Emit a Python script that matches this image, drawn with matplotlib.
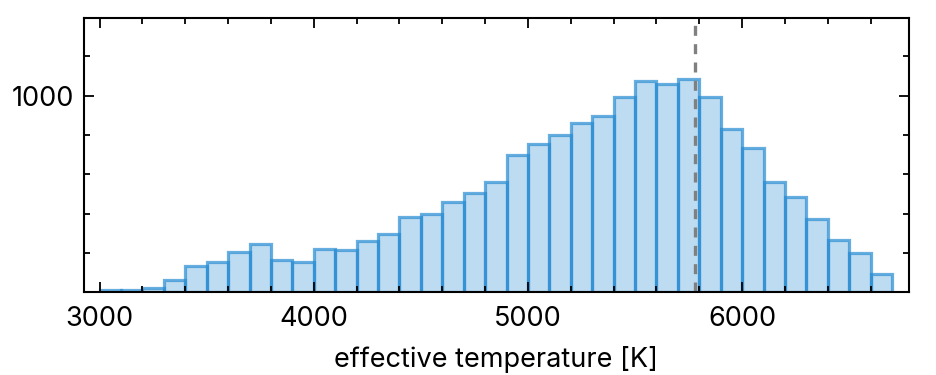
import matplotlib
matplotlib.use("Agg")
import matplotlib.pyplot as plt
import matplotlib.ticker as mticker
import numpy as np

# histogram bins (K) and counts
bin_edges = np.arange(3000, 6701, 100)
counts = [10, 10, 22, 61, 136, 154, 203, 246, 163, 154,
          220, 214, 259, 297, 381, 400, 458, 504, 563, 697,
          754, 802, 859, 897, 992, 1076, 1059, 1086, 992, 831,
          736, 561, 486, 371, 268, 200, 93]
t_sun = 5778

plt.rcParams['font.family'] = ['Inter', 'DejaVu Sans']

base = (40 / 255, 140 / 255, 210 / 255)

fig = plt.figure(figsize=(9.37, 3.75), dpi=100)
ax = fig.add_axes([0.0896, 0.2205, 0.8805, 0.7315])

ax.hist(bin_edges[:-1], bins=bin_edges, weights=counts,
        facecolor=base + (0.3,), edgecolor=base + (0.7,), linewidth=2.3)
ax.axvline(t_sun, color='0.5', ls='--', lw=2.4, dashes=(3.0, 2.5))

ax.set_xlim(2927, 6779)
ax.set_ylim(0, 1395)

ax.xaxis.set_major_locator(mticker.FixedLocator([3000, 4000, 5000, 6000]))
ax.xaxis.set_minor_locator(mticker.MultipleLocator(200))
ax.yaxis.set_major_locator(mticker.FixedLocator([1000]))
ax.yaxis.set_minor_locator(mticker.MultipleLocator(200))

ax.tick_params(which='both', direction='in', top=True, right=True,
               labelsize=19.5, width=1.3)
ax.tick_params(which='major', length=7)
ax.tick_params(which='minor', length=4)
ax.tick_params(axis='x', pad=10)
ax.tick_params(axis='y', pad=7)

for sp in ax.spines.values():
    sp.set_linewidth(1.5)

ax.set_xlabel("effective temperature [K]", fontsize=19.5, labelpad=10)

fig.savefig("out.png", dpi=100)
